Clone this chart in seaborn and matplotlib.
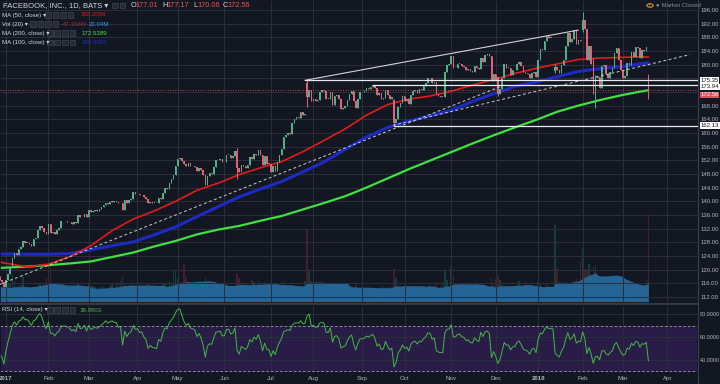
import numpy as np
import pandas as pd
import matplotlib
matplotlib.use("Agg")
import matplotlib.pyplot as plt
from matplotlib.patches import Rectangle, Circle
from matplotlib.lines import Line2D
from matplotlib.transforms import blended_transform_factory
import seaborn as sns

# ==========================================
# 1. DU LIEU (gia dong cua theo ngay, doc tu bieu do)
# ==========================================
close_2016_12 = [115.10, 115.40, 117.43, 117.31, 117.95, 118.91, 119.68, 117.77, 120.31, 120.21,
                 120.57, 119.87, 119.24, 119.09, 119.04, 117.40, 117.27, 118.01, 116.92, 116.35, 115.05]
close_2017_01 = [116.86, 118.69, 120.67, 123.41, 124.90, 124.35, 126.09, 126.62, 128.34, 127.87,
                 127.92, 127.55, 127.04, 128.93, 129.37, 131.48, 132.78, 132.18, 130.98, 130.32]
close_2017_02 = [133.23, 130.84, 130.98, 130.37, 131.53, 132.04, 134.20, 134.14, 134.19, 134.05,
                 133.85, 133.44, 133.84, 133.53, 136.12, 135.36, 135.44, 136.41, 135.54]
close_2017_03 = [137.42, 136.76, 137.17, 137.42, 137.30, 137.72, 138.24, 138.79, 139.60, 139.32,
                 139.72, 139.99, 139.84, 139.84, 139.39, 139.53, 137.42, 140.34, 139.53, 140.32,
                 140.77, 142.65, 142.05]
close_2017_04 = [142.28, 141.73, 141.85, 141.17, 140.78, 139.39, 139.92, 139.58, 139.52, 139.39,
                 140.96, 140.69, 142.44, 143.80, 143.68, 145.47, 146.49, 147.70, 150.25]
close_2017_05 = [152.46, 152.78, 151.80, 150.85, 150.24, 151.06, 150.33, 150.19, 150.04, 148.96,
                 149.78, 149.04, 147.66, 144.85, 147.45, 148.24, 148.07, 150.04, 151.96, 152.13,
                 152.38, 151.46]
close_2017_06 = [151.53, 153.61, 153.63, 152.81, 153.12, 154.71, 149.60, 148.44, 150.68, 150.25,
                 149.80, 150.64, 152.87, 152.25, 153.91, 153.40, 155.07, 153.59, 150.58, 153.24,
                 151.04, 150.98]
close_2017_07 = [148.43, 150.34, 148.82, 151.44, 153.50, 155.27, 158.90, 159.26, 159.97, 159.73,
                 162.86, 164.14, 164.53, 164.43, 166.00, 165.28, 165.61, 170.44, 172.45, 169.25]
close_2017_08 = [169.86, 169.30, 169.62, 171.97, 172.45, 172.21, 169.99, 170.00, 172.11, 168.08,
                 170.75, 171.00, 170.00, 166.91, 167.41, 167.78, 169.64, 171.27, 172.25, 169.43,
                 167.24, 170.00, 171.97]
close_2017_09 = [172.02, 172.23, 173.21, 172.92, 173.51, 173.96, 173.05, 170.96, 171.64, 170.01,
                 170.17, 172.52, 171.11, 170.06, 170.54, 162.87, 164.21, 167.68, 168.73, 170.87]
close_2017_10 = [169.47, 169.96, 168.42, 171.24, 172.23, 172.50, 171.59, 172.74, 172.55, 173.74,
                 174.52, 176.11, 176.03, 174.56, 174.98, 171.27, 170.80, 170.60, 170.63, 177.88,
                 179.87, 180.06]
close_2017_11 = [182.66, 178.92, 178.92, 180.17, 180.25, 179.56, 179.30, 178.46, 178.77, 178.07,
                 177.95, 179.59, 179.00, 178.74, 181.86, 180.87, 182.78, 183.03, 182.42, 175.13,
                 177.18]
close_2017_12 = [175.10, 171.47, 172.83, 176.06, 180.14, 179.00, 179.04, 176.96, 178.30, 178.39,
                 180.18, 180.82, 179.51, 177.89, 177.45, 177.20, 175.99, 177.62, 177.92, 176.46]
close_2018_01 = [181.42, 184.67, 184.33, 186.85, 188.28, 187.87, 187.84, 187.77, 179.37, 178.39,
                 177.60, 179.80, 181.29, 185.37, 189.35, 186.55, 187.48, 190.00, 185.98, 187.12,
                 186.89]
close_2018_02 = [193.09, 190.28, 181.26, 185.31, 180.18, 171.58, 176.11, 176.41, 173.15, 179.52,
                 179.96, 177.36, 176.01, 177.91, 178.99, 183.29, 184.93, 181.46, 178.32]
close_2018_03 = [175.94, 176.62, 180.40, 179.78, 183.71, 182.34, 185.23, 184.76, 181.88, 184.19,
                 183.86, 185.09, 172.56]

# khoi luong (trieu co phieu)
vol_2016_12 = [29, 24, 19, 18, 17, 16, 16, 19, 19, 18, 17, 17, 15, 11, 11, 11, 11, 9, 11, 12, 18]
vol_2017_01 = [20, 19, 19, 28, 22, 16, 18, 18, 26, 15, 13, 13, 13, 16, 15, 17, 19, 16, 19, 25]
vol_2017_02 = [34, 38, 19, 15, 16, 14, 16, 13, 12, 12, 12, 16, 13, 14, 19, 14, 13, 13, 12]
vol_2017_03 = [19, 17, 17, 16, 14, 16, 17, 16, 16, 15, 17, 19, 15, 19, 20, 22, 27, 19, 16, 15, 18, 18, 18]
vol_2017_04 = [17, 16, 15, 16, 15, 20, 15, 14, 15, 15, 17, 17, 20, 19, 16, 22, 20, 34, 33]
vol_2017_05 = [25, 19, 21, 39, 26, 17, 16, 16, 18, 20, 17, 17, 16, 25, 21, 18, 16, 18, 18, 15, 15, 17]
vol_2017_06 = [17, 15, 16, 16, 17, 16, 30, 25, 21, 18, 18, 17, 17, 23, 21, 15, 22, 16, 17, 21, 18, 17]
vol_2017_07 = [16, 18, 16, 16, 16, 21, 21, 16, 17, 16, 15, 16, 15, 16, 17, 15, 22, 72, 32, 22]
vol_2017_08 = [17, 15, 17, 16, 16, 15, 14, 15, 17, 20, 17, 14, 16, 17, 17, 16, 14, 15, 15, 13, 18, 14, 15]
vol_2017_09 = [14, 15, 16, 15, 14, 14, 15, 15, 15, 18, 16, 16, 15, 17, 16, 34, 25, 17, 15, 16]
vol_2017_10 = [18, 15, 16, 15, 13, 15, 15, 13, 15, 16, 13, 16, 18, 15, 15, 19, 15, 17, 20, 32, 23, 16]
vol_2017_11 = [36, 29, 19, 17, 16, 15, 14, 13, 15, 15, 15, 18, 16, 14, 15, 13, 9, 15, 15, 25, 18]
vol_2017_12 = [24, 28, 23, 18, 17, 15, 13, 17, 16, 17, 18, 22, 16, 15, 21, 13, 11, 13, 13, 14]
vol_2018_01 = [21, 19, 16, 16, 20, 18, 14, 14, 77, 35, 22, 21, 17, 15, 17, 16, 12, 22, 24, 21, 42]
vol_2018_02 = [54, 34, 33, 39, 29, 36, 38, 27, 19, 19, 22, 17, 19, 19, 18, 21, 21, 15, 17]
vol_2018_03 = [21, 17, 18, 15, 19, 19, 16, 20, 16, 15, 15, 23, 88]

# nhung nen co gap / rau nen dang chu y (chi so phien, 0 = 03/01/2017)
special_idx = [109, 142, 183, 232, 259, 272, 277, 278, 303]
special_open = [154.80, 174.70, 169.60, 176.30, 178.10, 190.00, 181.00, 174.80, 177.01]
special_high = [155.60, 175.49, 169.90, 176.30, 180.10, 195.32, 182.00, 176.90, 177.17]
special_low = [146.60, 167.50, 162.13, 170.80, 177.40, 189.50, 171.30, 167.18, 170.06]

# duong MA doc tu hinh (lay mau moi 10 phien)
ma_idx = [-3, 10, 20, 30, 40, 50, 60, 70, 80, 90, 100, 110, 120, 130, 140, 150,
          160, 170, 180, 190, 200, 210, 220, 230, 240, 250, 260, 270, 280, 290, 300, 303]
ma50_vals = [122.2, 120.8, 121.6, 123.8, 127.0, 131.4, 134.8, 137.2, 140.0, 143.2, 145.3,
             147.8, 149.8, 151.6, 154.5, 157.8, 161.2, 165.2, 168.3, 169.9, 170.8, 172.2,
             174.0, 175.6, 177.4, 178.9, 180.2, 181.5, 181.9, 182.1, 182.3, 182.2]
ma100_vals = [124.6, 124.5, 124.5, 124.7, 125.8, 127.0, 128.1, 130.2, 132.5, 135.5, 138.4,
              141.3, 143.6, 145.8, 148.6, 151.5, 155.2, 158.8, 161.6, 163.5, 165.0, 166.6,
              169.2, 171.5, 173.6, 174.9, 176.5, 178.0, 178.8, 179.4, 180.3, 180.5]
ma200_vals = [120.5, 120.9, 121.3, 121.8, 122.4, 123.7, 125.0, 126.8, 128.4, 130.3, 131.7,
              132.8, 134.3, 135.7, 137.6, 139.5, 141.5, 144.0, 146.7, 149.4, 151.9, 154.4,
              156.9, 159.3, 161.6, 163.8, 166.2, 168.0, 169.6, 171.0, 172.2, 172.5]

# cac duong ve tay (trendline / ngang)
trend_up_idx = [141, 270]
trend_up_px = [175.4, 190.1]
dash1_idx = [-2.8, 233]
dash1_px = [115.7, 173.5]
dash2_idx = [182.5, 322.5]
dash2_px = [162.2, 182.9]
level_start = [141, 173, 183]
level_px = [175.35, 173.94, 162.13]
last_price = 172.56

month_idx = [0, 20, 39, 62, 81, 103, 125, 145, 168, 188, 210, 231, 251, 272, 291, 312]
month_lbl = ['2017', 'Feb', 'Mar', 'Apr', 'May', 'Jun', 'Jul', 'Aug', 'Sep', 'Oct', 'Nov',
             'Dec', '2018', 'Feb', 'Mar', 'Apr']
price_ticks = list(range(112, 197, 4))
rsi_ticks = [40, 60, 80]

# ==========================================
# 2. XU LY
# ==========================================
close_all = (close_2016_12 + close_2017_01 + close_2017_02 + close_2017_03 + close_2017_04 +
             close_2017_05 + close_2017_06 + close_2017_07 + close_2017_08 + close_2017_09 +
             close_2017_10 + close_2017_11 + close_2017_12 + close_2018_01 + close_2018_02 +
             close_2018_03)
vol_all = (vol_2016_12 + vol_2017_01 + vol_2017_02 + vol_2017_03 + vol_2017_04 + vol_2017_05 +
           vol_2017_06 + vol_2017_07 + vol_2017_08 + vol_2017_09 + vol_2017_10 + vol_2017_11 +
           vol_2017_12 + vol_2018_01 + vol_2018_02 + vol_2018_03)
n_pre = len(close_2016_12)
df = pd.DataFrame({'idx': np.arange(-n_pre, len(close_all) - n_pre),
                   'close': close_all, 'volume': vol_all})
df['open'] = df['close'].shift(1).fillna(df['close'])
df = df.set_index('idx')
df.loc[special_idx, 'open'] = special_open
df['high'] = df[['open', 'close']].max(axis=1)
df['low'] = df[['open', 'close']].min(axis=1)
df.loc[special_idx, 'high'] = special_high
df.loc[special_idx, 'low'] = special_low
df = df.reset_index()
df['up'] = df['close'] >= df['open']
df['vol_ma'] = df['volume'].rolling(20, min_periods=1).mean()

# RSI 14 (Wilder)
delta = df['close'].diff().fillna(0)
gain = delta.clip(lower=0).ewm(alpha=1 / 14, adjust=False).mean()
loss = (-delta.clip(upper=0)).ewm(alpha=1 / 14, adjust=False).mean()
df['rsi'] = 100 - 100 / (1 + gain / loss.replace(0, np.nan))

# ==========================================
# 3. VE
# ==========================================
bg = '#131722'
grid_c = '#2a2f3b'
txt = '#b2b5be'
up_c, down_c = '#4fb08a', '#e0637a'

sns.set_theme(style="darkgrid", rc={'axes.facecolor': bg, 'figure.facecolor': bg,
                                    'grid.color': grid_c, 'grid.linewidth': 0.7,
                                    'axes.edgecolor': bg, 'text.color': txt,
                                    'xtick.color': txt, 'ytick.color': txt})
plt.rcParams['font.family'] = ['Liberation Sans', 'DejaVu Sans']

fig = plt.figure(figsize=(7.2, 3.84), dpi=100)
W, H = 720.0, 384.0
ax = fig.add_axes([0, (H - 303) / H, 698 / W, 303 / H])
rax = fig.add_axes([0, (H - 373) / H, 698 / W, 68 / H], sharex=ax)
vax = ax.twinx()
ax.set_zorder(vax.get_zorder() + 1)
ax.patch.set_visible(False)

xmin, xmax = -2.83, 326.4
ax.set_xlim(xmin, xmax)
ax.set_ylim(110.24, 198.9)

# khoi luong
bar_cols = np.where(df['up'], '#1c5e4c', '#6a2634')
vax.bar(df['idx'], df['volume'], width=0.7, color=bar_cols, alpha=0.55, linewidth=0)
vax.fill_between(df['idx'], df['vol_ma'], color='#25689b', alpha=0.95, linewidth=0)
vax.set_ylim(0, 300)
vax.axis('off')

# duong MA
sns.lineplot(x=ma_idx, y=ma200_vals, ax=ax, color='#3fe03f', linewidth=1.6, legend=False)
sns.lineplot(x=ma_idx, y=ma100_vals, ax=ax, color='#1b2bc4', linewidth=2.2, legend=False)
sns.lineplot(x=ma_idx, y=ma50_vals, ax=ax, color='#e31b1b', linewidth=1.2, legend=False)

# nen
cols = np.where(df['up'], up_c, down_c)
ax.vlines(df['idx'], df['low'], df['high'], colors=cols, linewidth=0.7, zorder=3)
body_lo = df[['open', 'close']].min(axis=1)
body_h = (df['close'] - df['open']).abs().clip(lower=0.15)
ax.bar(df['idx'], body_h, bottom=body_lo, width=0.7, color=cols, linewidth=0, zorder=3)

# duong ve tay
ax.plot(trend_up_idx, trend_up_px, color='#d0d2d8', linewidth=0.8, zorder=4)
ax.plot(dash1_idx, dash1_px, color='#c8cad0', linewidth=0.7, dashes=(3, 2.5), zorder=4)
ax.plot(dash2_idx, dash2_px, color='#c8cad0', linewidth=0.7, dashes=(3, 2.5), zorder=4)
for s, p in zip(level_start, level_px):
    ax.plot([s, xmax], [p, p], color='#e8e8ea', linewidth=0.9, zorder=4)
ax.axhline(last_price, color='#ef5350', linewidth=0.6, dashes=(1, 2), zorder=4)

# truc
ax.set_xticks(month_idx)
ax.tick_params(axis='x', length=0, labelbottom=False)
ax.yaxis.tick_right()
ax.set_yticks(price_ticks)
ax.set_yticklabels(['' if t in (172, 176) else f'{t:.2f}' for t in price_ticks])
ax.tick_params(axis='y', labelsize=4.3, colors=txt, length=0, pad=2)
ax.set_xlabel('')
ax.set_ylabel('')
ax.grid(True)

tr = blended_transform_factory(ax.transAxes, ax.transData)
box_lbl = [('175.35', 175.35, 0, 'white', '#131722'),
           ('173.94', 173.94, -1.2, 'white', '#131722'),
           ('172.56', 172.56, -3.5, '#e0505c', 'white'),
           ('162.13', 162.13, 0, 'white', '#131722')]
for s, p, off, fc, tc in box_lbl:
    ax.annotate(s, xy=(1.0, p), xycoords=tr, xytext=(1.8, off), textcoords='offset points',
                fontsize=4.3, color=tc, va='center', ha='left', annotation_clip=False,
                bbox=dict(boxstyle='square,pad=0.12', fc=fc, ec='none'))

# RSI
rax.axhspan(30, 70, color='#291d48', zorder=0)
sns.lineplot(x=df['idx'], y=df['rsi'], ax=rax, color='#43b843', linewidth=0.7, legend=False)
rax.axhline(70, color='#9a9da6', linewidth=0.6, dashes=(3, 2.5))
rax.axhline(30, color='#9a9da6', linewidth=0.6, dashes=(3, 2.5))
rax.set_ylim(28.3, 88.3)
rax.yaxis.tick_right()
rax.set_yticks(rsi_ticks)
rax.set_yticklabels([f'{t:.4f}' for t in rsi_ticks])
rax.tick_params(axis='y', labelsize=3.9, colors=txt, length=0, pad=1.5)
rax.set_xticks(month_idx)
rax.set_xticklabels(month_lbl)
rax.tick_params(axis='x', labelsize=4.4, colors=txt, length=0, pad=2.5)
for lb in rax.get_xticklabels():
    if lb.get_text() in ('2017', '2018'):
        lb.set_fontweight('bold')
rax.set_xlabel('')
rax.set_ylabel('')
rax.grid(True)
rax.set_xlim(xmin, xmax)

# duong phan cach
fig.add_artist(Line2D([0, 698 / W], [1 - 304 / H] * 2, color='#3a3f4c', linewidth=1.2))
fig.add_artist(Line2D([698 / W] * 2, [0, 1], color='#3a3f4c', linewidth=0.8))


# ==========================================
# 4. CHU THICH GOC TREN
# ==========================================
def ftext(x, y, s, **kw):
    fig.text(x / W, 1 - y / H, s, va='center', ha='left', **kw)


def icons(x, y, n):
    for k in range(n):
        fig.add_artist(Rectangle(((x + k * 7.5) / W, 1 - (y + 2.5) / H), 5.5 / W, 5.5 / H,
                                 transform=fig.transFigure, fc='#262a35', ec='#4a4f5c', lw=0.4))


ftext(3, 5.7, 'FACEBOOK, INC., 1D, BATS ▾', fontsize=5.5, color='#d1d4dc')
icons(112, 5.7, 2)
ohlc = [('O', '177.01', 131), ('H', '177.17', 162), ('L', '170.06', 193), ('C', '172.56', 223)]
for k, v, x in ohlc:
    ftext(x, 5.7, k, fontsize=5.3, color='#d1d4dc')
    ftext(x + 4.8, 5.7, v, fontsize=5.3, color='#ef5350')

ftext(2, 15, 'MA (50, close) ▾', fontsize=4.4, color='#d1d4dc')
icons(45, 15, 4)
ftext(81, 15, '182.2056', fontsize=4.4, color='#e31b1b')
ftext(2, 24.3, 'Vol (20) ▾', fontsize=4.4, color='#d1d4dc')
icons(30, 24.3, 4)
ftext(63, 24.3, '87.156M', fontsize=4.4, color='#8e2a36')
ftext(89, 24.3, '22.04M', fontsize=4.4, color='#2e9bf0')
ftext(2, 33.3, 'MA (200, close) ▾', fontsize=4.4, color='#d1d4dc')
icons(47, 33.3, 4)
ftext(82, 33.3, '172.5389', fontsize=4.4, color='#3fe03f')
ftext(2, 42.7, 'MA (100, close) ▾', fontsize=4.4, color='#d1d4dc')
icons(47, 42.7, 4)
ftext(82, 42.7, '180.4892', fontsize=4.4, color='#1b2bc4')

ftext(2, 310, 'RSI (14, close) ▾', fontsize=4.4, color='#d1d4dc')
icons(47, 310, 4)
ftext(80, 310, '38.9803', fontsize=4.4, color='#43b843')

fig.add_artist(Circle((650 / W, 1 - 5.5 / H), 3.2 / W, transform=fig.transFigure,
                      fc='none', ec='#f0a030', lw=0.7))
ftext(649, 5.5, '!', fontsize=4, color='#f0a030')
ftext(656, 5.8, '● Market Closed', fontsize=4.4, color='#8a8d96')

plt.savefig('out.png', dpi=100, facecolor=bg)
plt.close()
